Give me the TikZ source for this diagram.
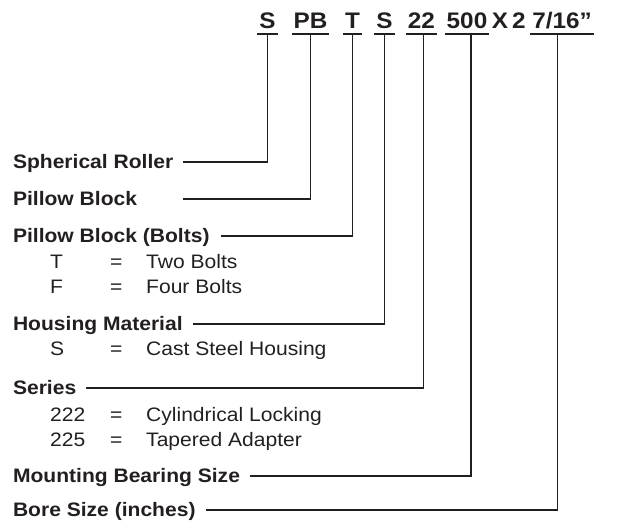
\documentclass[tikz,border=0pt]{standalone}
\usepackage{fontspec}
\setmainfont[FakeStretch=1.08]{Liberation Sans}
\definecolor{ink}{RGB}{35,31,32}
\begin{document}
\begin{tikzpicture}[x=1pt,y=1pt,
  every node/.style={text=ink},
  tok/.style={font=\fontsize{22.5}{22.5}\selectfont\bfseries, inner xsep=2pt, inner ysep=0pt, outer sep=0pt, text height=16pt, text depth=5pt, anchor=base},
  plain/.style={font=\fontsize{22.5}{22.5}\selectfont\bfseries, inner sep=0pt, anchor=base},
  lbl/.style={font=\fontsize{19.5}{19.5}\selectfont\bfseries, inner sep=0pt, outer sep=0pt, text height=14pt, text depth=0pt, anchor=west},
  item/.style={font=\fontsize{19.5}{19.5}\selectfont, inner sep=0pt, text height=14pt, text depth=0pt, anchor=west},
  wire/.style={draw=ink, line width=1.7pt},
]
\useasboundingbox (0,0) rectangle (619,521);
% top code
\node[tok] (t1) at (267.5,492) {S};
\node[tok] (t2) at (310.5,492) {PB};
\node[tok] (t3) at (352.5,492) {T};
\node[tok] (t4) at (384.5,492) {S};
\node[tok] (t5) at (421.5,492) {22};
\node[tok] (t6) at (467,492) {500};
\node[plain] (tx) at (500,492) {X};
\node[plain] (t2b) at (519,492) {2};
\node[tok] (t7) at (562,492) {7/16''};
\foreach \t in {t1,t2,t3,t4,t5,t6,t7}
  \draw[wire] (\t.south west) -- (\t.south east);
% labels
\node[lbl] (l1) at (13,359) {Spherical Roller};
\node[lbl] (l2) at (13,322) {Pillow Block};
\node[lbl] (l3) at (13,285) {Pillow Block (Bolts)};
\node[item] (c1) at (50,259) {T};
\node[item] (e1) at (110,259) {=};
\node[item] (d1) at (146,259) {Two Bolts};
\node[item] (c2) at (50,234) {F};
\node[item] (e2) at (110,234) {=};
\node[item] (d2) at (146,234) {Four Bolts};
\node[lbl] (l4) at (13,197) {Housing Material};
\node[item] (c3) at (50,172) {S};
\node[item] (e3) at (110,172) {=};
\node[item] (d3) at (146,172) {Cast Steel Housing};
\node[lbl] (l5) at (13,133) {Series};
\node[item] (c4) at (50,106) {222};
\node[item] (e4) at (110,106) {=};
\node[item] (d4) at (146,106) {Cylindrical Locking};
\node[item] (c5) at (50,81) {225};
\node[item] (e5) at (110,81) {=};
\node[item] (d5) at (146,81) {Tapered Adapter};
\node[lbl] (l6) at (13,45) {Mounting Bearing Size};
\node[lbl] (l7) at (13,11) {Bore Size (inches)};
\coordinate (p2) at (183,322);
% connectors
\draw[wire] ([xshift=10pt]l1.east) -| (t1.south);
\draw[wire] (p2) -| (t2.south);
\draw[wire] ([xshift=11pt]l3.east) -| (t3.south);
\draw[wire] ([xshift=10pt]l4.east) -| (t4.south);
\draw[wire] ([xshift=10pt]l5.east) -| ([xshift=2pt]t5.south);
\draw[wire] ([xshift=10pt]l6.east) -| ([xshift=4pt]t6.south);
\draw[wire] ([xshift=10pt]l7.east) -| ([xshift=-4.5pt]t7.south);
\end{tikzpicture}
\end{document}
